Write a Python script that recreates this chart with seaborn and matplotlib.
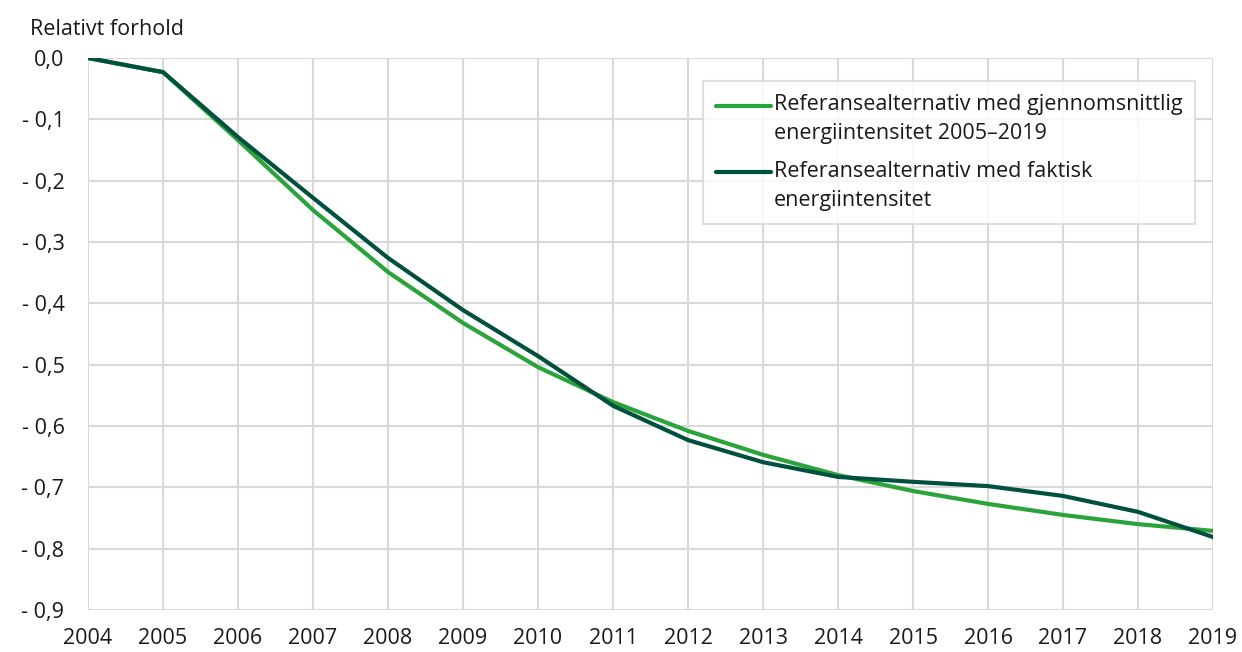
import pandas as pd
import matplotlib.pyplot as plt
import seaborn as sns

years = list(range(2004, 2020))
snitt = [0.0, -0.023, -0.134, -0.248, -0.349, -0.432, -0.504, -0.561, -0.608, -0.647,
         -0.680, -0.706, -0.727, -0.745, -0.760, -0.771]
faktisk = [0.0, -0.023, -0.129, -0.228, -0.326, -0.411, -0.486, -0.567, -0.623, -0.659,
           -0.683, -0.691, -0.698, -0.714, -0.740, -0.781]
serier = ['Referansealternativ med gjennomsnittlig\nenergiintensitet 2005–2019',
          'Referansealternativ med faktisk\nenergiintensitet']
farger = ['#2aa33b', '#00503e']

df = pd.concat([
    pd.DataFrame({'år': years, 'verdi': snitt, 'serie': serier[0]}),
    pd.DataFrame({'år': years, 'verdi': faktisk, 'serie': serier[1]}),
])

sns.set_style('white')
plt.rcParams['font.family'] = ['Open Sans', 'DejaVu Sans']

fig = plt.figure(figsize=(12.42, 6.52), dpi=100)
ax = fig.add_axes([0.0709, 0.0644, 0.9058, 0.8466])

sns.lineplot(data=df, x='år', y='verdi', hue='serie', palette=farger, linewidth=3,
             ax=ax, zorder=3)

ax.set_xlim(2004, 2019)
ax.set_ylim(-0.9, 0)
ax.set_xticks(years)
yt = [-0.1 * i for i in range(10)]
ax.set_yticks(yt)
ax.set_yticklabels(['0,0'] + ['- 0,%d' % i for i in range(1, 10)])
ax.tick_params(axis='both', labelsize=15.5, length=0, colors='#1a1a1a')
ax.tick_params(axis='x', pad=13)
ax.tick_params(axis='y', pad=17)
ax.grid(True, color='#d9d9d9', linewidth=1.5, zorder=0)
for s in ax.spines.values():
    s.set_visible(False)
ax.set_xlabel('')
ax.set_ylabel('')

leg = ax.legend(loc='upper right', bbox_to_anchor=(0.984, 0.959), fontsize=15.5,
                frameon=True, fancybox=False, edgecolor='#d9d9d9', handlelength=2.55,
                handletextpad=0.12, borderpad=0.6, labelspacing=0.75, borderaxespad=0)
leg.get_frame().set_linewidth(1.5)
for t in leg.get_texts():
    t.set_linespacing(1.55)
    t.set_color('#1a1a1a')
# legg linja på høyde med første tekstlinje
for ln in leg.get_lines():
    ln.set_ydata([v + 10 for v in ln.get_ydata()])

fig.text(0.024, 0.955, 'Relativt forhold', fontsize=15.5, ha='left', va='center',
         color='#1a1a1a')

fig.savefig('out.png', dpi=100)
